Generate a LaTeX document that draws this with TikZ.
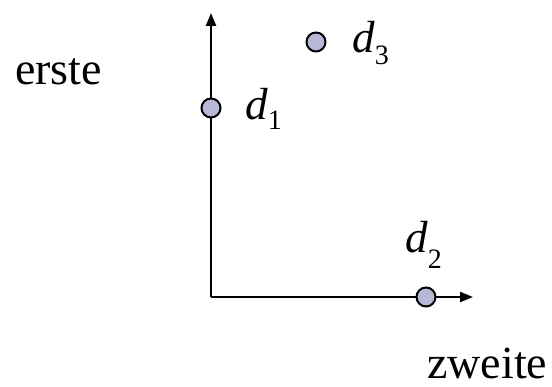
\documentclass[tikz,border=0pt]{standalone}
\usepackage{fontspec}
\setmainfont{Liberation Serif}
\usetikzlibrary{arrows.meta}
\definecolor{ptfill}{RGB}{184,184,214}
\newcommand{\dlab}[2]{\textit{d}\raisebox{-#2}{\fontsize{28}{28}\selectfont #1}}
\tikzset{
  pt/.style={circle,draw=black,line width=2pt,fill=ptfill,minimum size=19pt,inner sep=0pt},
  axis/.style={line width=2.4pt,-{Triangle[length=13pt,width=10pt]}},
  lab/.style={anchor=base west,inner sep=0pt,font=\fontsize{45}{45}\selectfont},
  word/.style={anchor=base west,inner sep=0pt,font=\fontsize{46}{46}\selectfont}
}
\begin{document}
\begin{tikzpicture}[x=1pt,y=1pt]
\useasboundingbox (0,0) rectangle (552,387);
\coordinate (O) at (211,90);
\coordinate (ytip) at (211,374);
\coordinate (xtip) at (473,90);
\draw[axis] (O) -- (ytip);
\draw[axis] (O) -- (xtip);
\node[pt] (d1) at (211,279) {};
\node[pt] (d3) at (316,345) {};
\node[pt] (d2) at (426,90) {};
\node[lab] (l1) at (245,267) {\dlab{1}{10pt}};
\node[lab] (l3) at (352,334) {\dlab{3}{12pt}};
\node[lab] (l2) at (405,134) {\dlab{2}{16pt}};
\node[word] (erste) at (15,302) {erste};
\node[word] (zweite) at (427,8) {zweite};
\end{tikzpicture}
\end{document}
